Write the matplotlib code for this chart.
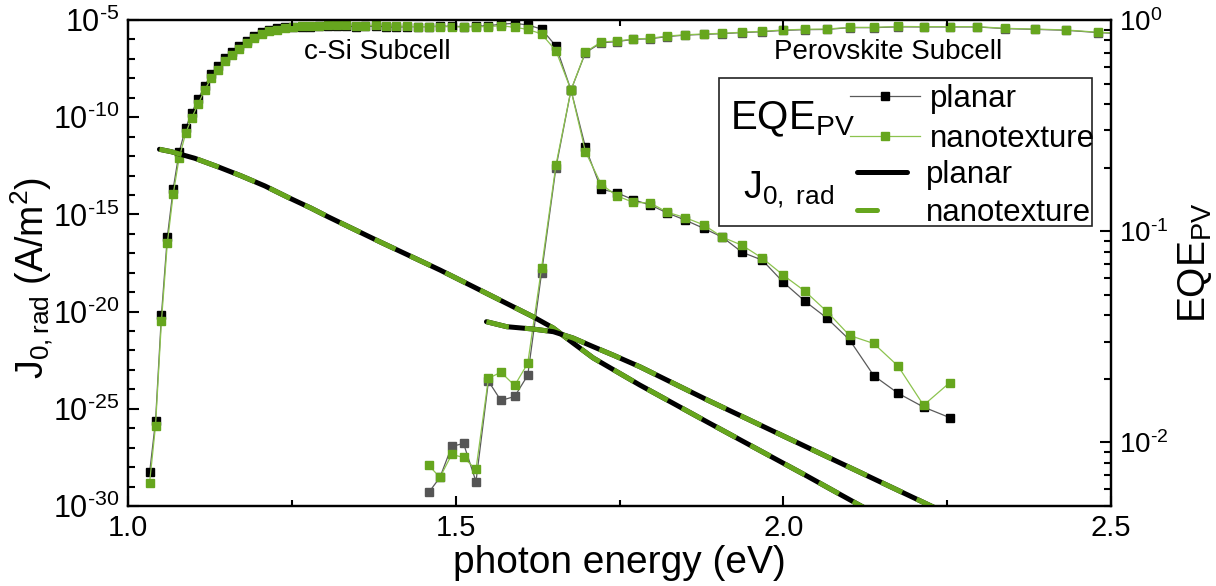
import matplotlib
matplotlib.use("Agg")
import numpy as np
import matplotlib.pyplot as plt
from matplotlib.lines import Line2D
from matplotlib.patches import Rectangle
from matplotlib.ticker import (FixedLocator, NullFormatter, FuncFormatter,
                               LogLocator, MultipleLocator, FormatStrFormatter)

plt.rcParams.update({"font.family": "Liberation Sans", "mathtext.fontset": "custom",
                     "mathtext.rm": "Liberation Sans", "mathtext.it": "Liberation Sans:italic",
                     "mathtext.bf": "Liberation Sans:bold", "axes.unicode_minus": False})

# ---------------------------- DATA -------------------------------------
# c-Si subcell EQE (photon energy in eV)
e_si = [1.033, 1.042, 1.051, 1.060, 1.069, 1.078, 1.088, 1.097, 1.107, 1.117, 1.127, 1.138,
        1.148, 1.159, 1.170, 1.181, 1.192, 1.204, 1.215, 1.228, 1.240, 1.252, 1.265, 1.278,
        1.292, 1.305, 1.319, 1.333, 1.348, 1.362, 1.378, 1.393, 1.409, 1.425, 1.442, 1.459,
        1.476, 1.494, 1.512, 1.531, 1.550, 1.569, 1.590, 1.610, 1.631, 1.653, 1.676, 1.698,
        1.722, 1.746, 1.771, 1.797, 1.823, 1.850, 1.879, 1.907, 1.937, 1.968, 2.000, 2.033,
        2.066, 2.101, 2.138, 2.175, 2.214, 2.254]
eqe_si_planar = [0.00721, 0.0126, 0.0400, 0.0937, 0.159, 0.237, 0.308, 0.362, 0.422, 0.487,
                 0.554, 0.605, 0.661, 0.705, 0.753, 0.796, 0.840, 0.877, 0.897, 0.916, 0.927,
                 0.925, 0.925, 0.930, 0.935, 0.940, 0.940, 0.935, 0.930, 0.935, 0.935, 0.930,
                 0.925, 0.930, 0.930, 0.930, 0.935, 0.935, 0.930, 0.935, 0.940, 0.955, 0.965,
                 0.947, 0.906, 0.753, 0.466, 0.250, 0.158, 0.152, 0.141, 0.133, 0.122, 0.113,
                 0.103, 0.0937, 0.0795, 0.0729, 0.0573, 0.0466, 0.0389, 0.0306, 0.0207,
                 0.0171, 0.0147, 0.0131]
eqe_si_nano = [0.00646, 0.0120, 0.0374, 0.0877, 0.150, 0.222, 0.291, 0.343, 0.400, 0.466,
               0.531, 0.580, 0.639, 0.683, 0.729, 0.778, 0.822, 0.859, 0.887, 0.897, 0.916,
               0.927, 0.935, 0.940, 0.940, 0.945, 0.945, 0.945, 0.940, 0.940, 0.945, 0.940,
               0.935, 0.935, 0.930, 0.930, 0.930, 0.930, 0.925, 0.930, 0.930, 0.940, 0.923,
               0.903, 0.859, 0.715, 0.466, 0.238, 0.167, 0.147, 0.137, 0.136, 0.123, 0.116,
               0.107, 0.0937, 0.0858, 0.0745, 0.0619, 0.0520, 0.0418, 0.0321, 0.0294,
               0.0230, 0.0150, 0.0192]

# perovskite subcell EQE
e_pvk = [1.459, 1.476, 1.494, 1.512, 1.531, 1.550, 1.569, 1.590, 1.610, 1.631, 1.653, 1.676,
         1.698, 1.722, 1.746, 1.771, 1.797, 1.823, 1.850, 1.879, 1.907, 1.937, 1.968, 2.000,
         2.033, 2.066, 2.101, 2.138, 2.175, 2.214, 2.254, 2.296, 2.339, 2.384, 2.431, 2.480,
         2.530]
eqe_pvk_planar = [0.00580, 0.00683, 0.00957, 0.00989, 0.00653, 0.0195, 0.0158, 0.0165, 0.0208,
                  0.0632, 0.200, 0.466, 0.700, 0.780, 0.790, 0.810, 0.815, 0.835, 0.848,
                  0.855, 0.862, 0.872, 0.880, 0.893, 0.900, 0.902, 0.920, 0.920, 0.928,
                  0.927, 0.927, 0.927, 0.910, 0.903, 0.894, 0.872, 0.857]
eqe_pvk_nano = [0.00778, 0.00683, 0.00877, 0.00849, 0.00745, 0.0201, 0.0215, 0.0186, 0.0237,
                0.0668, 0.2055, 0.466, 0.705, 0.787, 0.795, 0.813, 0.819, 0.840, 0.851,
                0.859, 0.865, 0.875, 0.884, 0.897, 0.904, 0.906, 0.923, 0.923, 0.932,
                0.930, 0.930, 0.930, 0.913, 0.906, 0.897, 0.875, 0.860]

# radiative J0 integrands (A/m^2) -- planar and nanotexture coincide
e_j0_si = [1.048, 1.066, 1.102, 1.137, 1.172, 1.209, 1.244, 1.279, 1.305, 1.385, 1.476, 1.547,
           1.618, 1.649, 1.679, 1.710, 1.781, 1.884, 2.036, 2.113, 2.148]
j0_si = [2.23e-12, 1.68e-12, 7.69e-13, 2.84e-13, 9.8e-14, 2.89e-14, 7.57e-15, 2.13e-15,
         7.62e-16, 3.80e-17, 1.38e-18, 8.73e-20, 5.47e-21, 1.43e-21, 2.43e-22, 4.10e-23,
         1.67e-24, 2.09e-26, 3.49e-29, 1.27e-30, 2.9e-31]
e_j0_pvk = [1.547, 1.578, 1.618, 1.649, 1.679, 1.710, 1.740, 1.781, 1.884, 2.087, 2.219, 2.254]
j0_pvk = [3.02e-21, 1.67e-21, 1.27e-21, 9.25e-22, 4.39e-22, 1.56e-22, 5.85e-23, 1.46e-23,
          2.84e-25, 1.63e-28, 1.27e-30, 3.5e-31]

GREEN, GREEN_LN, GRAY_LN, DKGRAY = "#66a61e", "#8cc34e", "#5a5a5a", "#555555"

def pow10(v, pos):
    k = int(round(np.log10(v)))
    return r"$\mathregular{10^{%s}}$" % (r"\text{-}%d" % -k if k < 0 else "%d" % k)

# ---------------------------- PLOT -------------------------------------
fig = plt.figure(figsize=(12.16, 5.86), dpi=100)
ax = fig.add_axes([128/1216, 80/586, 983/1216, 486/586])
ax2 = ax.twinx()
ax.set_zorder(2); ax2.set_zorder(1); ax.patch.set_visible(False)

mk = dict(marker="s", ms=6, lw=0.9)
ax2.plot(e_si, eqe_si_planar, color=GRAY_LN, mfc="k", mec="k", **mk)
ax2.plot(e_si, eqe_si_nano, color=GREEN_LN, mfc=GREEN, mec=GREEN, **mk)
ax2.plot(e_pvk, eqe_pvk_planar, color=GRAY_LN, mfc=DKGRAY, mec=DKGRAY, **mk)
ax2.plot(e_pvk, eqe_pvk_nano, color=GREEN_LN, mfc=GREEN, mec=GREEN, **mk)

for ee, jj in [(e_j0_si, j0_si), (e_j0_pvk, j0_pvk)]:
    ax.plot(ee, jj, color="k", lw=3.6, solid_capstyle="round")
    ax.plot(ee, jj, color=GREEN, lw=3.6, dashes=(4.6, 3.2))

ax.set_yscale("log"); ax2.set_yscale("log")
ax.set_xlim(1.0, 2.5); ax.set_ylim(1e-30, 1e-5); ax2.set_ylim(0.005, 1)

ax.xaxis.set_major_locator(MultipleLocator(0.5)); ax.xaxis.set_minor_locator(MultipleLocator(0.25))
ax.xaxis.set_major_formatter(FormatStrFormatter("%.1f"))
ax.yaxis.set_major_locator(FixedLocator([10.0**k for k in range(-30, -4, 5)]))
ax.yaxis.set_major_formatter(FuncFormatter(pow10))
ax.yaxis.set_minor_locator(FixedLocator([10.0**k for k in range(-30, -4)]))
ax.yaxis.set_minor_formatter(NullFormatter())
ax2.yaxis.set_major_locator(LogLocator(base=10))
ax2.yaxis.set_major_formatter(FuncFormatter(pow10))
ax2.yaxis.set_minor_locator(LogLocator(base=10, subs=range(2, 10)))
ax2.yaxis.set_minor_formatter(NullFormatter())

ax.tick_params(which="both", direction="in", width=1.5, top=True, right=False)
ax.tick_params(axis="x", which="major", length=7, labelsize=21, pad=6)
ax.tick_params(axis="x", which="minor", length=4)
ax.tick_params(axis="y", which="major", length=8, labelsize=22, pad=6)
ax.tick_params(axis="y", which="minor", length=5)
ax2.tick_params(which="both", direction="in", width=1.5)
ax2.tick_params(which="major", length=8, labelsize=20, pad=6)
ax2.tick_params(which="minor", length=5)
for a in (ax, ax2):
    for s in a.spines.values(): s.set_linewidth(1.6)

ax.set_xlabel("photon energy (eV)", fontsize=28, labelpad=2)
ax.set_ylabel(r"J$_\mathregular{0,rad}$ (A/m$^\mathregular{2}$)", fontsize=27)
ax.yaxis.set_label_coords(-0.073, 0.47)
ax2.set_ylabel(r"EQE$_\mathregular{PV}$", fontsize=28)
ax2.yaxis.set_label_coords(1.066, 0.5)

ax.text(0.254, 0.935, "c-Si Subcell", transform=ax.transAxes, fontsize=20, ha="center", va="center")
ax.text(0.773, 0.935, "Perovskite Subcell", transform=ax.transAxes, fontsize=20, ha="center", va="center")

# ---------------------------- LEGEND -----------------------------------
ax.add_patch(Rectangle((0.601, 0.576), 0.38, 0.305, transform=ax.transAxes, fill=False,
                       lw=1.2, ec="#222222", clip_on=False))
h_eqe = [Line2D([], [], color=GRAY_LN, mfc="k", mec="k", **mk),
         Line2D([], [], color=GREEN_LN, mfc=GREEN, mec=GREEN, **mk)]
h_j0 = [Line2D([], [], color="k", lw=3.6, solid_capstyle="round"),
        Line2D([], [], color=GREEN, lw=3.6, dashes=(4.0, 12), dash_capstyle="round")]
leg1 = ax.legend(h_eqe, ["planar", "nanotexture"], loc="upper left", bbox_to_anchor=(0.7345, 0.868),
                 frameon=False, fontsize=22.5, handlelength=2.25, handletextpad=0.3,
                 labelspacing=0.32, borderpad=0, borderaxespad=0)
ax.add_artist(leg1)
ax.legend(h_j0, ["planar", "nanotexture"], loc="upper left", bbox_to_anchor=(0.742, 0.712),
          frameon=False, fontsize=22.5, handlelength=1.6, handletextpad=0.6,
          labelspacing=0.26, borderpad=0, borderaxespad=0)
ax.text(0.612, 0.795, r"EQE$_\mathregular{PV}$", transform=ax.transAxes, fontsize=29, va="center")
ax.text(0.626, 0.652, r"J$_\mathregular{0,\ rad}$", transform=ax.transAxes, fontsize=27, va="center")

fig.savefig("out.png", dpi=100)
